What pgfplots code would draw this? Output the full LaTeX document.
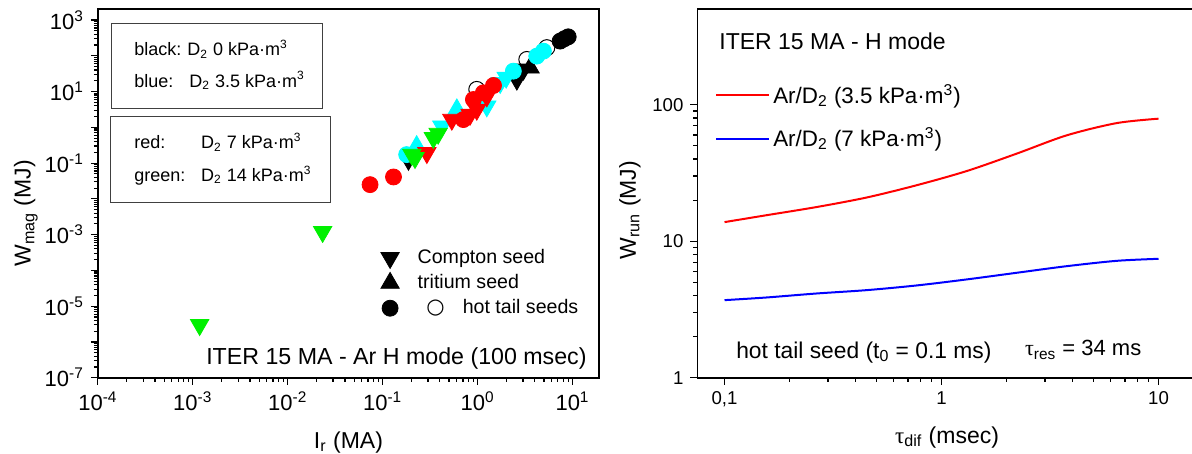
\documentclass[border=0pt]{standalone}
\usepackage{fontspec}
\setmainfont{Liberation Sans}
\newfontfamily\greekfont{Liberation Serif}
\newfontfamily\symbfont{DejaVu Sans}
\usepackage{pgfplots}
\pgfplotsset{compat=1.18}

\definecolor{cyanM}{RGB}{0,255,255}
\definecolor{redM}{RGB}{255,0,0}
\definecolor{greenM}{RGB}{0,240,0}
\definecolor{blueM}{RGB}{0,0,255}

\newcommand{\dec}[1]{10\textsuperscript{#1}}
\newcommand{\fs}[1]{\fontsize{#1}{1.2\dimexpr#1\relax}\selectfont}
\newcommand{\tauc}{{\greekfont τ}}

\tikzset{
  dnmark/.style={mark=triangle*, mark size=5.3pt, mark options={rotate=180}},
  upmark/.style={mark=triangle*, mark size=5.3pt},
  cimark/.style={mark=*, mark size=4pt},
}

\begin{document}
\begin{tikzpicture}
\useasboundingbox (0,0) rectangle (596pt,227pt);

% ---------------- left panel: stored magnetic energy vs runaway current
\begin{axis}[
  scale only axis,
  xmode=log, ymode=log,
  axis line style={line width=0.9pt},
  tick align=outside,
  xtick pos=bottom, ytick pos=left,
  major tick length=3.5pt, minor tick length=2pt,
  every tick/.style={black, line width=0.6pt},
  /pgf/number format/assume math mode=true,
  at={(48.95pt,38.15pt)}, anchor=south west,
  width=250.55pt, height=184.2pt,
  xmin=1e-4, xmax=19, ymin=1e-7, ymax=2000,
  xtick={1e-4,1e-3,1e-2,1e-1,1,10},
  xticklabels={\dec{-4},\dec{-3},\dec{-2},\dec{-1},\dec{0},\dec{1}},
  ytick={1e-7,1e-6,1e-5,1e-4,1e-3,1e-2,1e-1,1,10,100,1000},
  yticklabels={\dec{-7},,\dec{-5},,\dec{-3},,\dec{-1},,\dec{1},,\dec{3}},
  ticklabel style={font=\fs{11pt}},
  xlabel={I\textsubscript{r} (MA)},
  ylabel={W\textsubscript{mag} (MJ)},
  label style={font=\fs{11.5pt}},
  xlabel style={at={(axis description cs:0.5,-0.1916)}, anchor=base},
  ylabel style={at={(axis description cs:-0.134,0.446)}, anchor=base},
  legend style={draw=none, fill=none, font=\fs{9.8pt},
    at={(rel axis cs:0.564,0.358)}, anchor=north west,
    row sep=1pt, inner sep=0pt, nodes={inner sep=1.5pt}},
  legend cell align=left,
]
% legend
\addlegendimage{only marks, dnmark, black, fill=black}
\addlegendentry{\hspace{7.7pt}Compton seed}
\addlegendimage{only marks, upmark, black, fill=black}
\addlegendentry{\hspace{7.7pt}tritium seed}
\addlegendimage{only marks, cimark, black, fill=black}
\addlegendentry{\hspace{12.1pt}{\symbfont\fs{10.5pt}○}\hspace{9pt}hot tail seeds}

% hot tail seeds, open circles
\addplot[only marks, cimark, black, fill=white, mark options={line width=0.5pt}] coordinates {
 (0.98,11.5) (3.3,79) (5.36,169)};
% D2 0 kPa m3 (black)
\addplot[only marks, dnmark, black, fill=black] coordinates {(0.187,0.125) (2.59,21.8) (3.04,41.6)};
\addplot[only marks, upmark, black, fill=black] coordinates {(3.57,46.4)};
\addplot[only marks, cimark, black, fill=black] coordinates {(7.4,258) (8.2,300) (9.0,340)};
% D2 3.5 kPa m3 (cyan)
\addplot[only marks, dnmark, cyanM, fill=cyanM] coordinates {(0.42,1.07) (1.25,3.9) (1.73,17.6) (2.0,24.8)};
\addplot[only marks, upmark, cyanM, fill=cyanM] coordinates {(0.228,0.295) (0.604,3.15)};
\addplot[only marks, cimark, cyanM, fill=cyanM] coordinates {(0.179,0.173) (2.38,37.3) (4.2,98) (4.93,135)};
% D2 7 kPa m3 (red)
\addplot[only marks, dnmark, redM, fill=redM] coordinates {(0.292,0.193) (0.535,1.65) (0.834,2.28) (0.98,3.15) (1.25,7.4)};
\addplot[only marks, cimark, redM, fill=redM] coordinates {(0.0736,0.025) (0.130,0.041) (0.708,1.65) (0.903,6.0) (1.15,9.25) (1.47,14.8)};
% D2 14 kPa m3 (green)
\addplot[only marks, dnmark, greenM, fill=greenM] coordinates {(1.18e-3,3.0e-6) (0.0233,1.2e-3) (0.203,0.173) (0.219,0.140) (0.342,0.508) (0.384,0.67)};
\end{axis}

% colour key boxes
\draw[line width=0.5pt, black!75] (55.5pt,172.5pt) rectangle (161pt,215.35pt);
\draw[line width=0.5pt, black!75] (55.25pt,125.85pt) rectangle (165pt,168.65pt);
\begin{scope}[every node/.style={anchor=base west, inner sep=0pt, font=\fs{9pt}}]
\node at (67pt,199pt) {black:};
\node at (93.5pt,199pt) {D\textsubscript{2} 0 kPa·m\textsuperscript{3}};
\node at (67pt,183.35pt) {blue:};
\node at (94.5pt,183.35pt) {D\textsubscript{2} 3.5 kPa·m\textsuperscript{3}};
\node at (67pt,152.5pt) {red:};
\node at (100.4pt,152.5pt) {D\textsubscript{2} 7 kPa·m\textsuperscript{3}};
\node at (67pt,136.15pt) {green:};
\node at (100.4pt,136.15pt) {D\textsubscript{2} 14 kPa·m\textsuperscript{3}};
\end{scope}
\node[anchor=base east, inner sep=0pt, font=\fs{11.6pt}] at (293.5pt,44.85pt) {ITER 15 MA - Ar H mode (100 msec)};

% ---------------- right panel: runaway energy vs diffusion time
\begin{axis}[
  scale only axis,
  xmode=log, ymode=log,
  axis line style={line width=0.9pt},
  tick align=outside,
  xtick pos=bottom, ytick pos=left,
  major tick length=3.5pt, minor tick length=2pt,
  every tick/.style={black, line width=0.6pt},
  /pgf/number format/assume math mode=true,
  at={(348.7pt,38.15pt)}, anchor=south west,
  width=249.65pt, height=184.2pt,
  xmin=0.075, xmax=15, ymin=1, ymax=500,
  xtick={0.1,1,10}, xticklabels={{0,1},1,10},
  ytick={1,10,100}, yticklabels={1,10,100},
  ticklabel style={font=\fs{9.3pt}},
  xlabel={\tauc\textsubscript{dif} (msec)},
  ylabel={W\textsubscript{run} (MJ)},
  label style={font=\fs{11.5pt}},
  xlabel style={at={(axis description cs:0.5,-0.178)}, anchor=base},
  ylabel style={at={(axis description cs:-0.1234,0.455)}, anchor=base},
  legend style={draw=none, fill=none, font=\fs{11.2pt},
    at={(rel axis cs:0.035,0.805)}, anchor=north west,
    row sep=7.6pt, inner sep=0pt, nodes={inner sep=1.5pt}},
  legend cell align=left,
  legend image code/.code={\draw[#1, line width=1pt] (0pt,0pt) -- (26.5pt,0pt);},
]
\addplot[redM, line width=1pt, smooth] coordinates {
 (0.1,13.8) (0.156,15.5) (0.266,17.8) (0.452,20.9) (0.768,25.7) (1.31,32.7)
 (2.22,43.8) (3.77,59.6) (6.41,73.3) (10,79)};
\addlegendentry{Ar/D\textsubscript{2} (3.5 kPa·m\textsuperscript{3})}
\addplot[blueM, line width=1pt, smooth] coordinates {
 (0.1,3.70) (0.156,3.87) (0.266,4.14) (0.452,4.38) (0.768,4.74) (1.31,5.25)
 (2.22,5.87) (3.77,6.56) (6.41,7.18) (10,7.43)};
\addlegendentry{Ar/D\textsubscript{2} (7 kPa·m\textsuperscript{3})}
\end{axis}

\begin{scope}[every node/.style={anchor=base west, inner sep=0pt}]
\node[font=\fs{11.5pt}] at (359.5pt,202.35pt) {ITER 15 MA - H mode};
\node[font=\fs{11.4pt}] at (367.95pt,47.85pt) {hot tail seed (t\textsubscript{0} = 0.1 ms)};
\node[font=\fs{11pt}] at (512.35pt,49pt) {\tauc\textsubscript{res} = 34 ms};
\end{scope}
\end{tikzpicture}
\end{document}
